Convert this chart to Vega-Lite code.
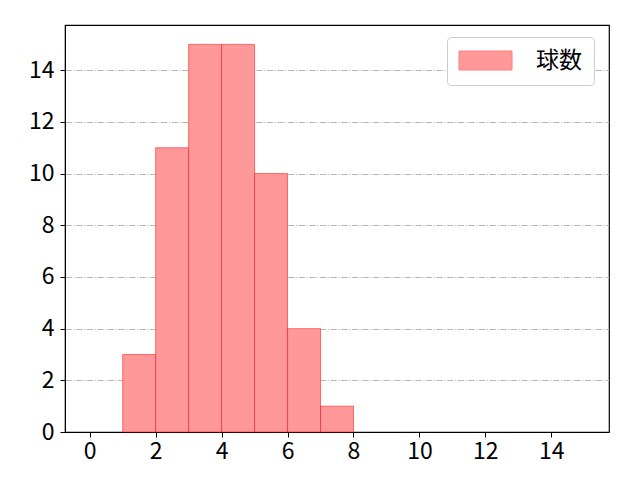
{
  "$schema": "https://vega.github.io/schema/vega-lite/v6.json",
  "width": 544,
  "height": 407,
  "autosize": {"type": "none"},
  "padding": {"left": 65, "top": 25, "right": 31, "bottom": 48},
  "background": "white",
  "config": {
    "font": "Noto Sans CJK JP",
    "view": {"stroke": "black", "strokeWidth": 1.2},
    "axis": {
      "labelFont": "Noto Sans CJK JP",
      "labelFontSize": 23,
      "labelColor": "black",
      "domainColor": "black",
      "tickColor": "black",
      "tickSize": 5,
      "labelPadding": 3,
      "title": null
    }
  },
  "data": {
    "values": [
      {"bin_start": 1, "bin_end": 2, "count": 3},
      {"bin_start": 2, "bin_end": 3, "count": 11},
      {"bin_start": 3, "bin_end": 4, "count": 15},
      {"bin_start": 4, "bin_end": 5, "count": 15},
      {"bin_start": 5, "bin_end": 6, "count": 10},
      {"bin_start": 6, "bin_end": 7, "count": 4},
      {"bin_start": 7, "bin_end": 8, "count": 1}
    ]
  },
  "mark": {
    "type": "rect",
    "stroke": "#ff0000",
    "strokeOpacity": 0.5,
    "strokeWidth": 1
  },
  "encoding": {
    "x": {
      "field": "bin_start",
      "type": "quantitative",
      "scale": {"domain": [-0.75, 15.75], "nice": false, "zero": false},
      "axis": {"values": [0, 2, 4, 6, 8, 10, 12, 14], "grid": false}
    },
    "x2": {"field": "bin_end"},
    "y": {
      "field": "count",
      "type": "quantitative",
      "scale": {"domain": [0, 15.75], "nice": false},
      "axis": {
        "values": [0, 2, 4, 6, 8, 10, 12, 14],
        "labelPadding": 6,
        "grid": true,
        "gridColor": "#b0b0b0",
        "gridWidth": 0.9,
        "gridDash": [6.4, 1.6, 1, 1.6]
      }
    },
    "y2": {"datum": 0},
    "color": {
      "datum": "球数",
      "type": "nominal",
      "scale": {"range": ["#ff9999"]},
      "legend": {
        "title": null,
        "orient": "none",
        "legendX": 382,
        "legendY": 12,
        "padding": 12,
        "strokeColor": "#cccccc",
        "fillColor": "white",
        "cornerRadius": 4,
        "symbolType": "M-2.65,-0.95H2.65V0.95H-2.65Z",
        "symbolSize": 400,
        "symbolOffset": 15,
        "symbolStrokeColor": "#ff7f7f",
        "symbolStrokeWidth": 1,
        "symbolOpacity": 1,
        "labelFont": "Noto Sans CJK JP",
        "labelFontSize": 23,
        "labelColor": "black",
        "labelOffset": 39
      }
    },
    "opacity": {"value": 1}
  }
}
